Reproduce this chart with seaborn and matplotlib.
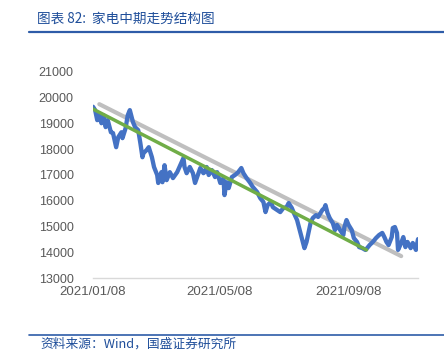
import pandas as pd
import numpy as np
import matplotlib
matplotlib.use("Agg")
import matplotlib.pyplot as plt
import matplotlib.dates as mdates
from matplotlib.lines import Line2D
import seaborn as sns

# Index series
dates = [
    "2021-01-08", "2021-01-10", "2021-01-12", "2021-01-13", "2021-01-16", "2021-01-18",
    "2021-01-20", "2021-01-22", "2021-01-25", "2021-01-27", "2021-01-30", "2021-02-01",
    "2021-02-04", "2021-02-05", "2021-02-08", "2021-02-10", "2021-02-12", "2021-02-15",
    "2021-02-17", "2021-02-20", "2021-02-22", "2021-02-24", "2021-02-25", "2021-02-28",
    "2021-03-02", "2021-03-05", "2021-03-07", "2021-03-10", "2021-03-11", "2021-03-14",
    "2021-03-15", "2021-03-17", "2021-03-19", "2021-03-22", "2021-03-25", "2021-03-29",
    "2021-04-01", "2021-04-04", "2021-04-05", "2021-04-07", "2021-04-10", "2021-04-13",
    "2021-04-15", "2021-04-17", "2021-04-20", "2021-04-23", "2021-04-24", "2021-04-26",
    "2021-04-28", "2021-05-01", "2021-05-04", "2021-05-06", "2021-05-09", "2021-05-12",
    "2021-05-13", "2021-05-15", "2021-05-17", "2021-05-20", "2021-05-23", "2021-05-26",
    "2021-05-29", "2021-05-31", "2021-06-03", "2021-06-06", "2021-06-09", "2021-06-13",
    "2021-06-16", "2021-06-19", "2021-06-21", "2021-06-23", "2021-06-26", "2021-06-28",
    "2021-07-02", "2021-07-05", "2021-07-08", "2021-07-11", "2021-07-13", "2021-07-16",
    "2021-07-18", "2021-07-21", "2021-07-23", "2021-07-26", "2021-07-28", "2021-07-30",
    "2021-08-01", "2021-08-03", "2021-08-05", "2021-08-08", "2021-08-10", "2021-08-14",
    "2021-08-16", "2021-08-17", "2021-08-19", "2021-08-21", "2021-08-24", "2021-08-26",
    "2021-08-28", "2021-08-31", "2021-09-03", "2021-09-04", "2021-09-06", "2021-09-08",
    "2021-09-11", "2021-09-13", "2021-09-16", "2021-09-18", "2021-09-21", "2021-09-24",
    "2021-09-25", "2021-09-28", "2021-10-01", "2021-10-04", "2021-10-07", "2021-10-10",
    "2021-10-12", "2021-10-14", "2021-10-16", "2021-10-19", "2021-10-20", "2021-10-22",
    "2021-10-24", "2021-10-25", "2021-10-28", "2021-10-30", "2021-11-01", "2021-11-03",
    "2021-11-06", "2021-11-08", "2021-11-11", "2021-11-13",
]
values = [
    19650, 19520, 19130, 19400, 19010, 19320,
    18860, 19130, 18660, 18630, 18080, 18470,
    18660, 18430, 18820, 19320, 19520, 19050,
    18860, 18740, 18240, 17690, 17850, 17970,
    18080, 17690, 17310, 17000, 16690, 17110,
    16720, 17380, 16800, 17110, 16880, 17110,
    17380, 17660, 17310, 17070, 17310, 17070,
    16690, 16920, 17270, 17070, 17110, 17310,
    17000, 17190, 16920, 17110, 16690, 16880,
    16220, 16720, 16490, 16920, 17000, 17110,
    17270, 17070, 16880, 16720, 16530, 16340,
    16100, 15950, 15560, 15830, 15950, 15750,
    15640, 15560, 15720, 15750, 15910, 15720,
    15520, 15250, 14940, 14470, 14160, 14400,
    14780, 15170, 15330, 15440, 15370, 15640,
    15720, 15830, 15520, 15330, 15130, 14860,
    15060, 14860, 14670, 14980, 15250, 15060,
    14860, 14550, 14400, 14200, 14160, 14090,
    14130, 14280, 14400, 14550, 14670, 14750,
    14590, 14400, 14280, 14590, 14940, 14980,
    14750, 14090, 14360, 14590, 14200, 14400,
    14160, 14360, 14090, 14510,
]

# Trend lines (start / end points)
green_dates = ["2021-01-08", "2021-09-25"]
green_values = [19560, 14090]
gray_dates = ["2021-01-14", "2021-10-28"]
gray_values = [19750, 13850]

x_ticks = ["2021-01-08", "2021-05-08", "2021-09-08"]
y_ticks = [13000, 14000, 15000, 16000, 17000, 18000, 19000, 20000, 21000]

title_text = "图表 82:  家电中期走势结构图"
source_text = "资料来源：Wind，国盛证券研究所"

sns.set_style("white")
plt.rcParams['font.family'] = ['Noto Sans CJK SC', 'DejaVu Sans']

df = pd.DataFrame({"date": pd.to_datetime(dates), "value": values})
df_green = pd.DataFrame({"date": pd.to_datetime(green_dates), "value": green_values})
df_gray = pd.DataFrame({"date": pd.to_datetime(gray_dates), "value": gray_values})

fig = plt.figure(figsize=(4.44, 3.52), dpi=100)
ax = fig.add_axes([0.2095, 0.2102, 0.732, 0.5853])

sns.lineplot(data=df_gray, x="date", y="value", ax=ax, color="#BFBFBF", linewidth=3.0)
sns.lineplot(data=df, x="date", y="value", ax=ax, color="#4472C4", linewidth=3.1)
sns.lineplot(data=df_green, x="date", y="value", ax=ax, color="#70AD47", linewidth=2.5)

ax.set_xlim(pd.Timestamp("2021-01-08"), pd.Timestamp("2021-11-13"))
ax.set_ylim(13000, 21000)
ax.set_yticks(y_ticks)
ax.set_xticks(pd.to_datetime(x_ticks))
ax.xaxis.set_major_formatter(mdates.DateFormatter("%Y/%m/%d"))
ax.set_xlabel("")
ax.set_ylabel("")

for side in ["top", "right", "left"]:
    ax.spines[side].set_visible(False)
ax.spines["bottom"].set_color("#D9D9D9")
ax.spines["bottom"].set_linewidth(1.0)
ax.tick_params(axis="x", length=3, color="#D9D9D9", labelsize=9.5,
               labelcolor="#595959", pad=3)
ax.tick_params(axis="y", length=0, labelsize=9, labelcolor="#595959", pad=14)
for lab in ax.get_xticklabels() + ax.get_yticklabels():
    lab.set_family(['Liberation Sans', 'DejaVu Sans'])

# Header and footer
fig.text(0.083, 0.948, title_text, color="#1F4E9A", fontsize=9.8, style="italic",
         va="center", ha="left")
fig.add_artist(Line2D([0.065, 1.0], [0.908, 0.908], color="#2E5CA8", linewidth=1.6))
fig.add_artist(Line2D([0.065, 1.0], [0.048, 0.048], color="#2E5CA8", linewidth=1.2))
fig.text(0.09, 0.022, source_text, color="#1F4E9A", fontsize=9.2, style="italic",
         va="center", ha="left")

fig.savefig("out.png", dpi=100)
